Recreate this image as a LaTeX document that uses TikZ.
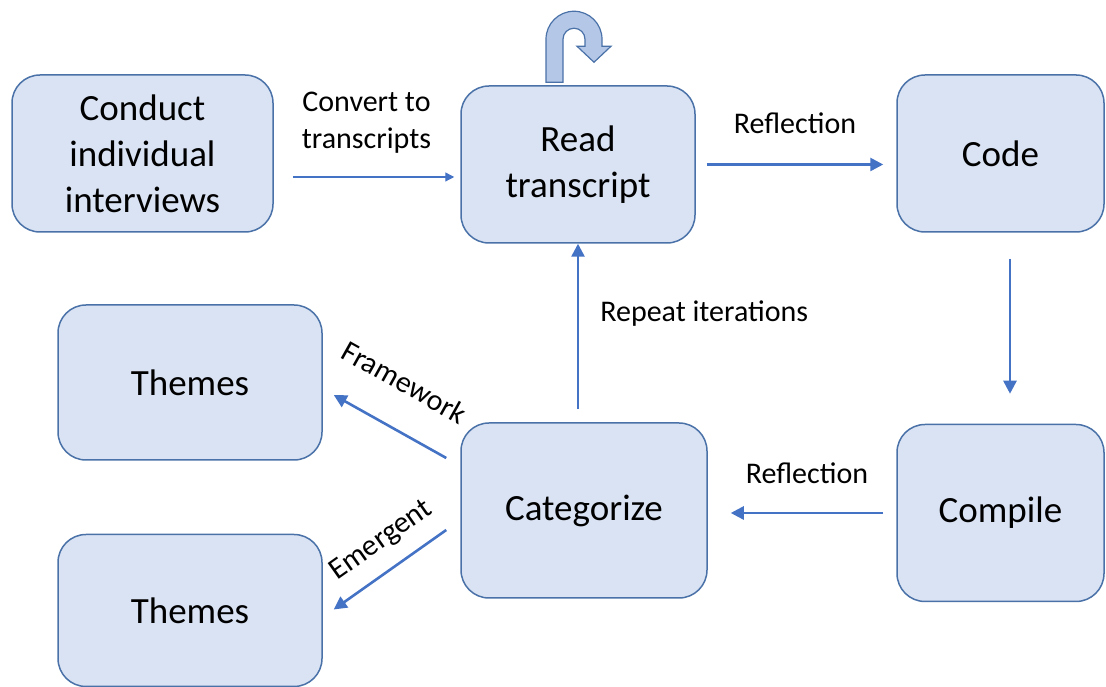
\documentclass[tikz,border=0pt]{standalone}
\usepackage{fontspec}
\setmainfont{Carlito}
\usepackage{tikz}
\usetikzlibrary{positioning,arrows.meta}
\definecolor{BoxFill}{HTML}{DAE3F3}
\definecolor{BoxLine}{HTML}{4A72A8}
\definecolor{ArrowBlue}{HTML}{4472C4}
\definecolor{LoopFill}{HTML}{B4C7E7}

\begin{document}
\begin{tikzpicture}[x=1pt,y=1pt,>={Triangle[length=13pt,width=13pt]}]
  \tikzstyle{stepbox}=[draw=BoxLine,fill=BoxFill,line width=1.5pt,rounded corners=28pt,
    align=center,inner sep=0pt,font=\fontsize{37}{46}\selectfont]
  \tikzstyle{flow}=[->,line width=2.6pt,color=ArrowBlue]
  \tikzstyle{lbl}=[text=black,inner sep=0pt,align=center,font=\fontsize{30}{37.5}\selectfont]
  \useasboundingbox (0,0) rectangle (1106,687);
  \node[stepbox,minimum width=261pt,minimum height=157pt] (conduct) at (142.5,533.5) {Conduct\\individual\\interviews};
  \node[stepbox,minimum width=234pt,minimum height=157pt] (read) at (578,522.5) {Read\\transcript};
  \node[stepbox,minimum width=207pt,minimum height=157pt] (code) at (1000.5,533.5) {Code};
  \node[stepbox,minimum width=207pt,minimum height=177pt,below=191pt of code] (compile) {Compile};
  \node[stepbox,minimum width=246pt,minimum height=175pt] (categ) at (584,176.5) {Categorize};
  \node[stepbox,minimum width=264pt,minimum height=155pt] (themesA) at (190,304.5) {Themes};
  \node[stepbox,minimum width=264pt,minimum height=152pt,below=73pt of themesA] (themesB) {Themes};
  % loop back onto the same step
  \begin{scope}[shift={(read.north)}]
    \draw[draw=BoxLine,fill=LoopFill,line width=1.2pt] (-32,3) -- (-32,46) arc (180:0:28)
      -- (24,39) -- (33,39) -- (16,23) -- (-1,39) -- (7,39) -- (7,46) arc (0:180:11)
      -- (-15,3) -- cycle;
  \end{scope}
  \draw[->,line width=1.3pt,color=ArrowBlue,>={Triangle[length=9pt,width=9pt]}]
    ([xshift=19pt,yshift=-23.5pt]conduct.east) -- ([xshift=-6pt,yshift=-12.5pt]read.west)
    node[lbl,midway,above=23pt,xshift=-7pt] {Convert to\\transcripts};
  \draw[flow] ([xshift=11pt]read.east) -- ([xshift=-13pt]code.west |- read.east)
    node[lbl,midway,above=29pt] {Reflection};
  \draw[flow] ([xshift=9.5pt,yshift=-26pt]code.south) -- ([xshift=9.5pt,yshift=30pt]compile.north);
  \draw[flow] ([xshift=-13pt]compile.west) -- ([xshift=23pt]categ.east |- compile.west)
    node[lbl,midway,above=28pt] {Reflection};
  \draw[flow] ([yshift=13pt]categ.north -| read.south) -- (read.south)
    node[lbl,pos=0.58,right=21pt] {Repeat iterations};
  \draw[flow] ([xshift=-14pt,yshift=52.5pt]categ.west) -- ([xshift=11pt,yshift=-12.5pt]themesA.east)
    node[lbl,pos=0.57,sloped,above=34pt] {Framework};
  \draw[flow] ([xshift=-14pt,yshift=-19.5pt]categ.west) -- ([xshift=11pt,yshift=1pt]themesB.east)
    node[lbl,pos=0.43,sloped,above=15pt] {Emergent};
\end{tikzpicture}
\end{document}
